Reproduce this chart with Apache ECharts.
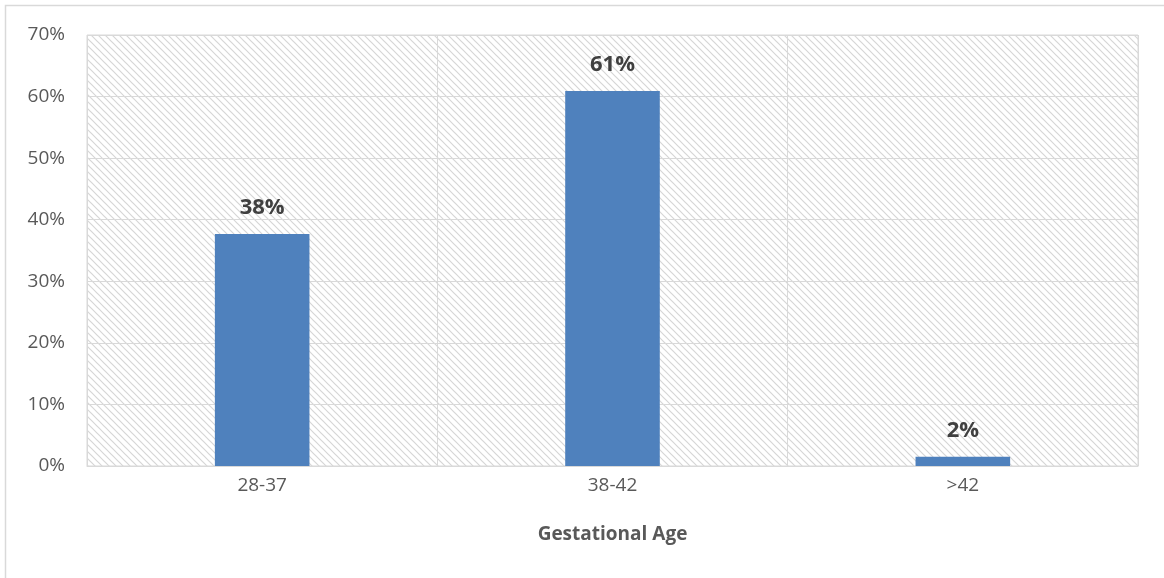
<!DOCTYPE html>
<html>
<head>
<meta charset="utf-8">
<script src="https://cdn.jsdelivr.net/npm/echarts@6/dist/echarts.min.js"></script>
<style>
  html, body { margin: 0; padding: 0; background: #fff; }
  #chart { width: 1164px; height: 578px; }
</style>
</head>
<body>
<div id="chart"></div>
<script>
// Share of births by gestational age group (weeks)
const categories = ['28-37', '38-42', '>42'];
const shares = [37.7, 60.9, 1.5];
const yTicks = [0, 10, 20, 30, 40, 50, 60, 70];

// Light diagonal hatch tile for the plot background
function hatchTile() {
  const s = 7;
  const c = document.createElement('canvas');
  c.width = s; c.height = s;
  const g = c.getContext('2d');
  g.fillStyle = '#ffffff';
  g.fillRect(0, 0, s, s);
  g.strokeStyle = '#d6d6d6';
  g.lineWidth = 1.2;
  g.beginPath();
  g.moveTo(-1, -1); g.lineTo(s + 1, s + 1);
  g.moveTo(-1, s - 1); g.lineTo(1, s + 1);
  g.moveTo(s - 1, -1); g.lineTo(s + 1, 1);
  g.stroke();
  return c;
}

const chart = echarts.init(document.getElementById('chart'));
const font = 'Open Sans, Noto Sans, sans-serif';

chart.setOption({
  animation: false,
  graphic: [{
    type: 'rect',
    shape: { x: 5.5, y: 5.5, width: 1200, height: 700 },
    style: { fill: 'none', stroke: '#d9d9d9', lineWidth: 1.5 },
    silent: true
  }],
  grid: {
    left: 87, right: 26, top: 35, bottom: 112,
    show: true,
    backgroundColor: { image: hatchTile(), repeat: 'repeat' },
    borderColor: '#d9d9d9',
    borderWidth: 1
  },
  xAxis: {
    type: 'category',
    data: categories,
    name: 'Gestational Age',
    nameLocation: 'middle',
    nameGap: 59,
    nameTextStyle: { fontFamily: font, fontSize: 19, fontWeight: 'bold', color: '#595959' },
    axisLine: { show: true, lineStyle: { color: '#d9d9d9', width: 1 } },
    axisTick: { show: false },
    axisLabel: { fontFamily: font, fontSize: 19, color: '#595959', margin: 10 },
    splitLine: { show: true, lineStyle: { color: '#d9d9d9', width: 1 } }
  },
  yAxis: {
    type: 'value',
    min: yTicks[0],
    max: yTicks[yTicks.length - 1],
    interval: yTicks[1] - yTicks[0],
    axisLine: { show: false },
    axisTick: { show: false },
    axisLabel: {
      fontFamily: font, fontSize: 19, color: '#595959', margin: 22,
      formatter: v => v + '%'
    },
    splitLine: { show: true, lineStyle: { color: '#d9d9d9', width: 1 } }
  },
  series: [{
    type: 'bar',
    data: shares,
    barWidth: '27%',
    itemStyle: { color: '#4f81bd' },
    label: {
      show: true,
      position: 'top',
      distance: 15,
      fontFamily: font,
      fontSize: 22,
      fontWeight: 'bold',
      color: '#404040',
      formatter: p => Math.round(p.value) + '%'
    }
  }]
});
</script>
</body>
</html>
